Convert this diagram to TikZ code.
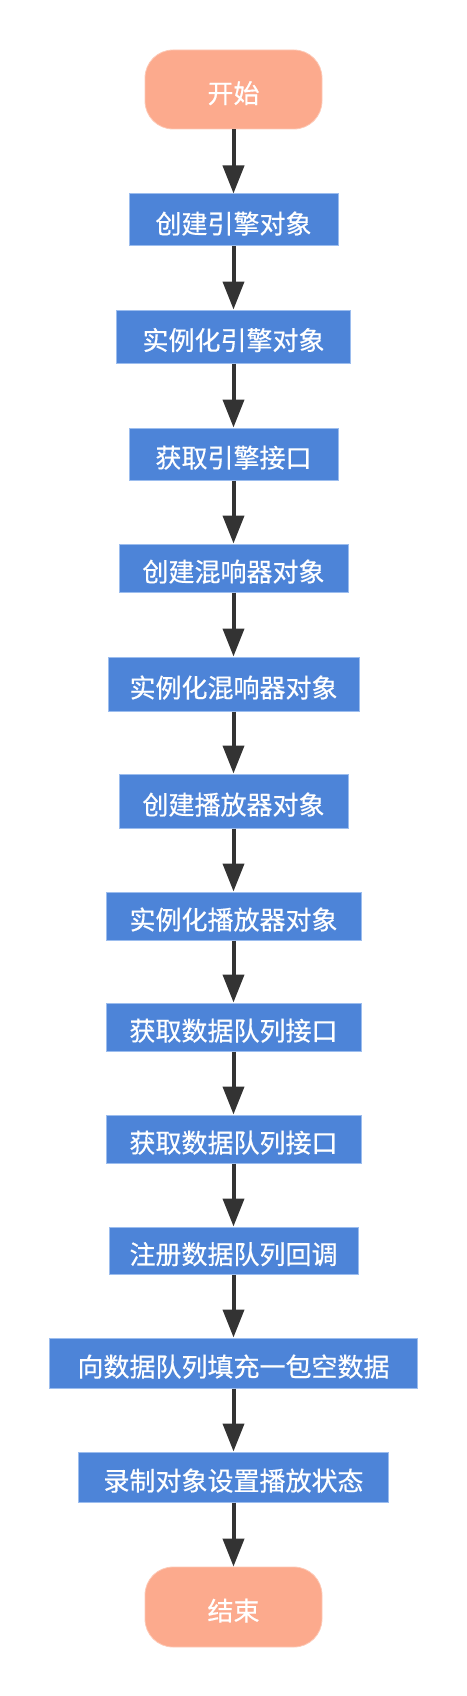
\documentclass[tikz,border=0pt]{standalone}
\usepackage{fontspec}
\setmainfont{Noto Sans CJK SC}[FakeBold=0.5]
\usetikzlibrary{arrows.meta}
\definecolor{boxblue}{HTML}{4D84D8}
\definecolor{boxedge}{HTML}{9CBDEE}
\definecolor{termfill}{HTML}{FCAA8D}
\definecolor{termedge}{HTML}{FDC9B6}
\definecolor{arrowc}{HTML}{333333}
\tikzset{
  procbox/.style={rectangle, fill=boxblue, draw=boxedge, line width=1pt, text=white, inner sep=0pt, text height=27pt, text depth=0pt, font=\fontsize{26}{30}\selectfont},
  termbox/.style={rectangle, rounded corners=28pt, fill=termfill, draw=termedge, line width=0.8pt, text=white, inner sep=0pt, text height=27pt, text depth=0pt, minimum width=177pt, font=\fontsize{26}{30}\selectfont},
  flow/.style={draw=arrowc, line width=4pt, -{Triangle[width=21pt,length=28pt]}, arrowc}
}
\begin{document}
\begin{tikzpicture}[x=1pt,y=-1pt]
\useasboundingbox (0,0) rectangle (466,1696);
\node[termbox, minimum height=79pt] (s) at (233.5,89.5) {开始};
\node[procbox, minimum width=209pt, minimum height=52pt] (b1) at (233.5,220) {创建引擎对象};
\node[procbox, minimum width=234pt, minimum height=53pt] (b2) at (233.5,336.5) {实例化引擎对象};
\node[procbox, minimum width=209pt, minimum height=52pt] (b3) at (233.5,454) {获取引擎接口};
\node[procbox, minimum width=229pt, minimum height=48pt] (b4) at (233.5,568) {创建混响器对象};
\node[procbox, minimum width=251pt, minimum height=54pt] (b5) at (233.5,684) {实例化混响器对象};
\node[procbox, minimum width=229pt, minimum height=54pt] (b6) at (233.5,801) {创建播放器对象};
\node[procbox, minimum width=255pt, minimum height=48pt] (b7) at (233.5,916) {实例化播放器对象};
\node[procbox, minimum width=255pt, minimum height=48pt] (b8) at (233.5,1027) {获取数据队列接口};
\node[procbox, minimum width=255pt, minimum height=48pt] (b9) at (233.5,1139) {获取数据队列接口};
\node[procbox, minimum width=249pt, minimum height=47pt] (b10) at (233.5,1250.5) {注册数据队列回调};
\node[procbox, minimum width=368pt, minimum height=50pt] (b11) at (233.5,1363) {向数据队列填充一包空数据};
\node[procbox, minimum width=310pt, minimum height=50pt] (b12) at (233.5,1477) {录制对象设置播放状态};
\node[termbox, minimum height=80pt] (e) at (233.5,1607) {结束};
\foreach \a/\b in {s/b1,b1/b2,b2/b3,b3/b4,b4/b5,b5/b6,b6/b7,b7/b8,b8/b9,b9/b10,b10/b11,b11/b12,b12/e}
  \draw[flow] (\a.south) -- (\b.north);
\end{tikzpicture}
\end{document}
